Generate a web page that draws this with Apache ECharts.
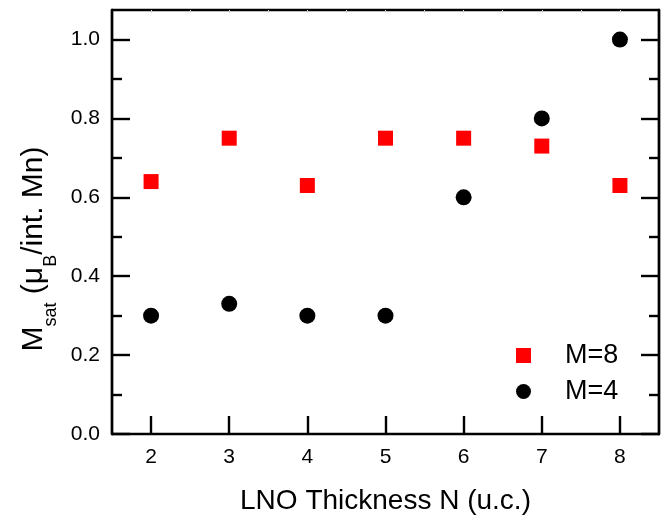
<!DOCTYPE html>
<html>
<head>
<meta charset="utf-8">
<title>Msat vs LNO thickness</title>
<script src="https://cdn.jsdelivr.net/npm/echarts@6/dist/echarts.min.js"></script>
<style>
  html, body { margin: 0; padding: 0; background: #fff; }
  #chart { width: 666px; height: 515px; }
</style>
</head>
<body>
<div id="chart"></div>
<script>
// LNO thickness N (unit cells)
const thickness = [2, 3, 4, 5, 6, 7, 8];
// Saturation magnetization per interfacial Mn (μB)
const msatM8 = [0.64, 0.75, 0.63, 0.75, 0.75, 0.73, 0.63];
const msatM4 = [0.30, 0.33, 0.30, 0.30, 0.60, 0.80, 1.00];

// Tick positions
const xTicks = [2, 3, 4, 5, 6, 7, 8];
const xTopTicks = [2, 2.5, 3, 3.5, 4, 4.5, 5, 5.5, 6, 6.5, 7, 7.5, 8];
const yTicks = [0, 0.2, 0.4, 0.6, 0.8, 1.0];
const yMinorTicks = [0.1, 0.3, 0.5, 0.7, 0.9];

const FONT = "'Liberation Sans', Arial, Helvetica, sans-serif";

const pair = (xs, ys) => xs.map((x, i) => [x, ys[i]]);

const X_MIN = 1.5, X_MAX = 8.5, Y_MIN = 0, Y_MAX = 1.075;

const lineStyle = { color: '#000000', width: 2.4, opacity: 1 };
const tickStyle = { color: '#000000', width: 2.4, opacity: 1 };

function yAx(position, ticks, len, opts) {
  return Object.assign({
    type: 'value', position: position, min: Y_MIN, max: Y_MAX,
    axisLine: { show: true, onZero: false, lineStyle: lineStyle },
    axisTick: { show: true, inside: true, length: len, customValues: ticks, lineStyle: tickStyle },
    axisLabel: { show: false },
    splitLine: { show: false }
  }, opts || {});
}

const chart = echarts.init(document.getElementById('chart'), null, { renderer: 'canvas' });

chart.setOption({
  animation: false,
  backgroundColor: '#fff',
  grid: { left: 112, right: 7, top: 10, bottom: 81, containLabel: false, outerBoundsMode: 'none' },
  legend: {
    orient: 'vertical',
    left: 516, top: 342,
    padding: 0,
    itemWidth: 15, itemHeight: 15,
    itemGap: 9,
    textStyle: { fontFamily: FONT, fontSize: 27, color: '#000', padding: [0, 0, 0, 29] },
    data: [
      { name: 'M=8', icon: 'rect' },
      { name: 'M=4', icon: 'circle' }
    ]
  },
  xAxis: [
    {
      type: 'value', position: 'bottom', min: X_MIN, max: X_MAX,
      axisLine: { show: true, onZero: false, lineStyle: lineStyle },
      axisTick: { show: true, inside: true, length: 18, customValues: xTicks, lineStyle: tickStyle },
      axisLabel: { show: true, customValues: xTicks, margin: 13, fontFamily: FONT, fontSize: 21, color: '#000' },
      splitLine: { show: false },
      name: 'LNO Thickness N (u.c.)',
      nameLocation: 'middle',
      nameGap: 53,
      nameTextStyle: { fontFamily: FONT, fontSize: 28, color: '#000' }
    },
    {
      type: 'value', position: 'top', min: X_MIN, max: X_MAX,
      axisLine: { show: true, onZero: false, lineStyle: lineStyle },
      axisTick: { show: true, inside: true, length: 3, customValues: xTopTicks, lineStyle: { color: '#d4d4d4', width: 1 } },
      axisLabel: { show: false },
      splitLine: { show: false }
    }
  ],
  yAxis: [
    yAx('left', yTicks, 18, {
      axisLabel: {
        show: true, customValues: yTicks, margin: 12,
        fontFamily: FONT, fontSize: 21, color: '#000',
        formatter: v => v.toFixed(1)
      },
      name: '{m|M}{s|sat}{m| (μ}{s|B}{m|/int. Mn)}',
      nameLocation: 'middle',
      nameRotate: 90,
      nameGap: 58,
      nameTextStyle: {
        fontFamily: FONT, color: '#000',
        padding: [0, 54, 0, 0],
        rich: {
          m: { fontFamily: FONT, fontSize: 30, lineHeight: 30, verticalAlign: 'top', color: '#000' },
          s: { fontFamily: FONT, fontSize: 18, lineHeight: 18, verticalAlign: 'top', padding: [23, 0, 0, 0], color: '#000' }
        }
      }
    }),
    yAx('left', yMinorTicks, 10),
    yAx('right', yTicks, 18),
    yAx('right', yMinorTicks, 10)
  ],
  series: [
    {
      name: 'M=8', type: 'scatter', xAxisIndex: 0, yAxisIndex: 0,
      symbol: 'rect', symbolSize: 15,
      itemStyle: { color: '#ff0000', opacity: 1 },
      data: pair(thickness, msatM8)
    },
    {
      name: 'M=4', type: 'scatter', xAxisIndex: 0, yAxisIndex: 0,
      symbol: 'circle', symbolSize: 16,
      itemStyle: { color: '#000', opacity: 1 },
      data: pair(thickness, msatM4)
    }
  ]
});
</script>
</body>
</html>
